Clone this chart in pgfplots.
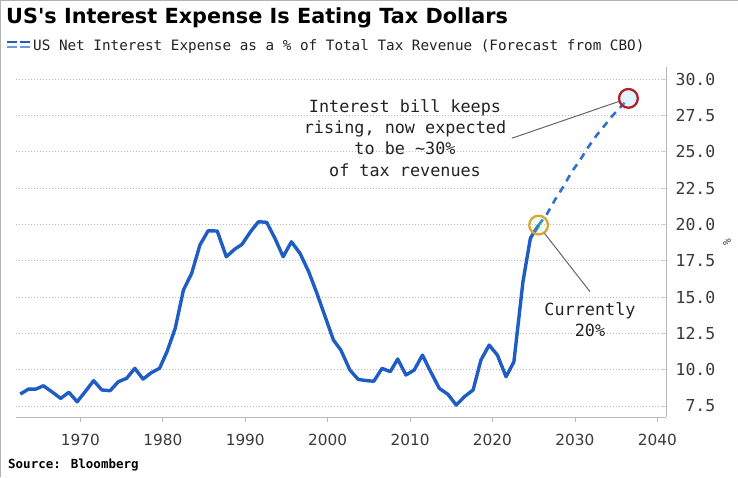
\documentclass[border=0pt]{standalone}
\usepackage{fontspec}
\usepackage{pgfplots}
\pgfplotsset{compat=1.18}
\setmainfont{DejaVu Sans}
\newfontfamily\monofont{DejaVu Sans Mono}
\newfontfamily\titlefont[Ligatures=TeXOff]{DejaVu Sans}
\definecolor{lineblue}{HTML}{1F5CC4}
\definecolor{dashblue}{HTML}{2F6FD0}
\definecolor{goldc}{HTML}{D9A43A}
\definecolor{redc}{HTML}{B3202A}
\definecolor{txt}{HTML}{222222}
\definecolor{tickc}{HTML}{3A3A3A}
\begin{document}
\begin{tikzpicture}[x=1pt,y=1pt]
\useasboundingbox (0,0) rectangle (738,477);
\draw[gray!60, line width=1.2pt] (0.6,0) -- (0.6,476.4) -- (738,476.4);
\begin{axis}[
  at={(16pt,60pt)}, anchor=south west,
  scale only axis, width=650pt, height=350pt,
  xmin=1962.18, xmax=2041.06, ymin=6.74, ymax=30.83,
  axis x line*=bottom, axis y line*=right,
  axis line style={draw=gray!55, line width=0.8pt},
  xtick={1970,1980,...,2040},
  ytick={7.5,10,...,30},
  tick align=center,
  major tick length=5pt,
  xtick style={draw=gray!55, line width=0.7pt, yshift=-2.5pt},
  ytick style={draw=gray!40, line width=0.7pt, xshift=-2.5pt},
  ymajorgrids,
  major grid style={dash pattern=on 1pt off 2pt, gray!55, line width=0.7pt},
  /pgf/number format/assume math mode=true,
  xticklabel style={font=\fontsize{15.3}{18}\selectfont, text=tickc, anchor=base, yshift=-26pt,
     /pgf/number format/1000 sep={}},
  yticklabel style={font=\monofont\fontsize{16.5}{19}\selectfont, text=tickc, anchor=east, inner sep=0pt, xshift=47pt,
     /pgf/number format/.cd, fixed, fixed zerofill, precision=1},
  clip=false,
]
\addplot[lineblue, line width=3.4pt, line join=round] coordinates {
(1962.7,8.32) (1963.7,8.66) (1964.6,8.66) (1965.5,8.89) (1966.6,8.45)
(1967.6,8.02) (1968.6,8.44) (1969.6,7.79) (1970.6,8.50) (1971.6,9.24)
(1972.6,8.60) (1973.6,8.55) (1974.6,9.17) (1975.6,9.40) (1976.6,10.09)
(1977.6,9.35) (1978.6,9.79) (1979.6,10.09) (1980.5,11.23) (1981.5,12.84)
(1982.5,15.48) (1983.5,16.63) (1984.5,18.58) (1985.5,19.56) (1986.6,19.54)
(1987.7,17.77) (1988.7,18.28) (1989.6,18.62) (1990.7,19.54) (1991.6,20.18)
(1992.6,20.14) (1993.6,19.04) (1994.6,17.77) (1995.6,18.80) (1996.65,18.00)
(1997.7,16.74) (1998.7,15.25) (1999.7,13.64) (2000.7,12.04) (2001.6,11.35)
(2002.7,9.97) (2003.7,9.33) (2004.6,9.25) (2005.6,9.20) (2006.6,10.09)
(2007.6,9.86) (2008.5,10.73) (2009.5,9.63) (2010.5,9.97) (2011.5,11.00)
(2012.5,9.86) (2013.55,8.71) (2014.6,8.30) (2015.6,7.56) (2016.6,8.14)
(2017.65,8.60) (2018.6,10.66) (2019.6,11.69) (2020.6,11.00) (2021.65,9.51)
(2022.6,10.54) (2023.7,16.05) (2024.6,19.04) (2025.6,19.95)
};
\addplot[dashblue, line width=2.6pt, dash pattern=on 7pt off 6pt] coordinates {
(2025.6,19.95) (2026.6,20.70) (2027.6,21.70) (2028.6,22.60) (2029.6,23.60)
(2030.6,24.40) (2031.6,25.30) (2032.6,26.10) (2033.6,26.80) (2034.6,27.50)
(2035.6,28.10) (2036.5,28.67)
};
\addplot[only marks, mark=*, mark size=9.4pt,
  mark options={draw=goldc, line width=2.3pt, fill=green!40, fill opacity=0.2, draw opacity=1}]
  coordinates {(2025.6,19.95)};
\addplot[only marks, mark=*, mark size=9.4pt,
  mark options={draw=redc, line width=2.3pt, fill=cyan!40, fill opacity=0.3, draw opacity=1}]
  coordinates {(2036.5,28.67)};
\end{axis}
% annotation leader lines
\draw[gray!80!black, line width=1pt] (511.7,338.7) -- (618.8,375.5);
\draw[gray!80!black, line width=1pt] (544.4,243.8) -- (590,185.3);
% title and legend
\node[anchor=base west, inner sep=0pt, text=black, font=\titlefont\bfseries\fontsize{20.8}{24}\selectfont] at (6,453) {US's Interest Expense Is Eating Tax Dollars};
\draw[lineblue, line width=2pt] (7,434.5) -- (17,434.5) (20,434.5) -- (30,434.5);
\draw[dashblue!70, line width=2pt] (7,430.3) -- (17,430.3) (20,430.3) -- (30,430.3);
\node[anchor=base west, inner sep=0pt, text=txt, font=\monofont\fontsize{14.3}{17}\selectfont] at (33,426.5) {US Net Interest Expense as a \% of Total Tax Revenue (Forecast from CBO)};
% annotations
\begin{scope}[every node/.style={anchor=base, inner sep=0pt, text=txt, font=\monofont\fontsize{16.8}{20}\selectfont}]
\node at (405,364.7) {Interest bill keeps};
\node at (405,343) {rising, now expected};
\node at (405,322) {to be \textasciitilde30\%};
\node at (405,300.3) {of tax revenues};
\node at (590,162) {Currently};
\node at (590,141) {20\%};
\end{scope}
\node[rotate=90, inner sep=0pt, text=tickc, font=\monofont\fontsize{11}{12}\selectfont] at (727,235) {\%};
\node[anchor=base west, inner sep=0pt, text=black, font=\monofont\bfseries\fontsize{12.5}{14}\selectfont] at (8,9) {Source: Bloomberg};
\end{tikzpicture}
\end{document}
